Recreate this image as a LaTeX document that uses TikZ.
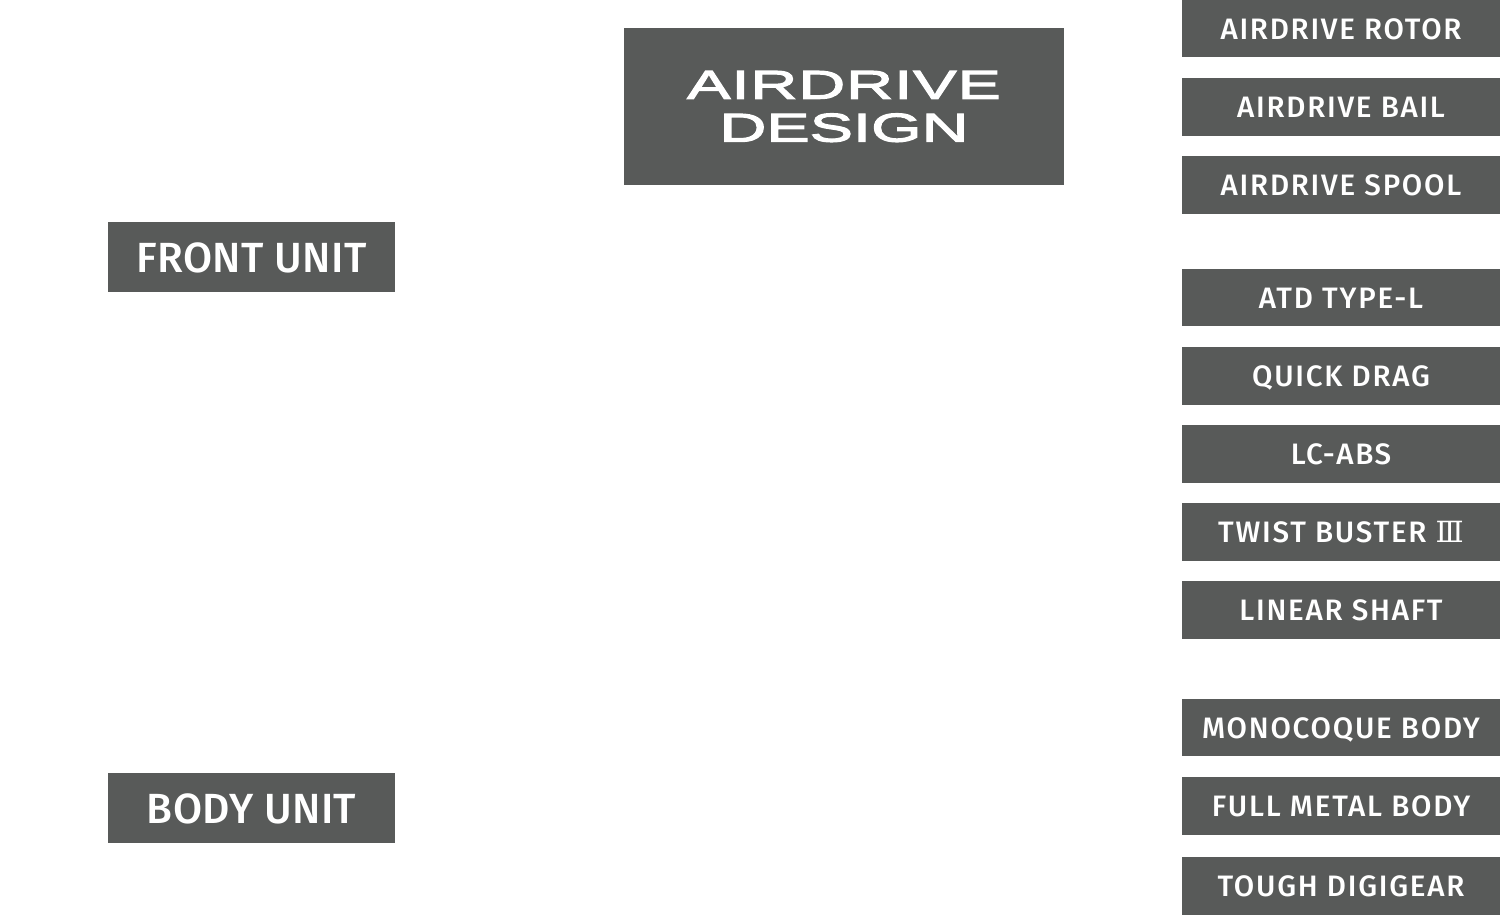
\documentclass[tikz,border=0pt]{standalone}
\usepackage{fontspec}
\setmainfont{Fira Sans}
\newfontfamily\dinfont[UprightFont={* Medium},LetterSpace=6.0]{Fira Sans}
\newfontfamily\dinwide[UprightFont={* Medium},LetterSpace=1.0]{Fira Sans}
\newfontfamily\logofont[FakeStretch=1.62,FakeBold=3,LetterSpace=2.5]{Liberation Sans}
\newfontfamily\numfont{DejaVu Serif}
\definecolor{unit gray}{HTML}{585A59}
\tikzstyle{part box}=[
    fill = unit gray,
    text = white,
    inner sep = 0pt,
    minimum width = 3.18cm,
    minimum height = 0.575cm,
    text height = 0.21cm,
    text depth = 0pt,
    font = \dinfont\fontsize{8.4}{10}\selectfont
]
\tikzstyle{unit box}=[
    fill = unit gray,
    text = white,
    inner sep = 0pt,
    minimum width = 2.87cm,
    minimum height = 0.705cm,
    text height = 0.30cm,
    text depth = 0pt,
    font = \dinwide\fontsize{12}{14}\selectfont
]
\begin{document}
\begin{tikzpicture}[x=0.01cm, y=-0.01cm, node distance={7.8mm}]
        \useasboundingbox (0,0) rectangle (1500,915);

        \node[fill = unit gray, text = white, inner sep = 0pt, minimum width = 4.4cm, minimum height = 1.56cm, align = center,
            font = \logofont\fontsize{11.4}{12.2}\selectfont] (design) at (844,106.5) {AIRDRIVE\\{\addfontfeature{LetterSpace=0}DESIGN}};

        \node[unit box] (front) at (251.5,257) {FRONT UNIT};
        \node[unit box] (body) at (251.5,808) {BODY UNIT};

        \node[part box] (rotor) at (1341,28.7) {AIRDRIVE ROTOR};
        \node[part box] (bail) [below of = rotor] {AIRDRIVE BAIL};
        \node[part box] (spool) [below of = bail] {AIRDRIVE SPOOL};

        \node[part box] (atd) at (1341,297.7) {ATD TYPE-L};
        \node[part box] (drag) [below of = atd] {QUICK DRAG};
        \node[part box] (abs) [below of = drag] {LC-ABS};
        \node[part box] (twist) [below of = abs] {TWIST BUSTER {\numfont\fontsize{8.3}{10}\selectfont Ⅲ}};
        \node[part box] (shaft) [below of = twist] {LINEAR SHAFT};

        \node[part box] (mono) at (1341,727.7) {MONOCOQUE BODY};
        \node[part box] (metal) [below of = mono] {FULL METAL BODY};
        \node[part box] (gear) at (1341,886.2) {TOUGH DIGIGEAR};

    \end{tikzpicture}
\end{document}
